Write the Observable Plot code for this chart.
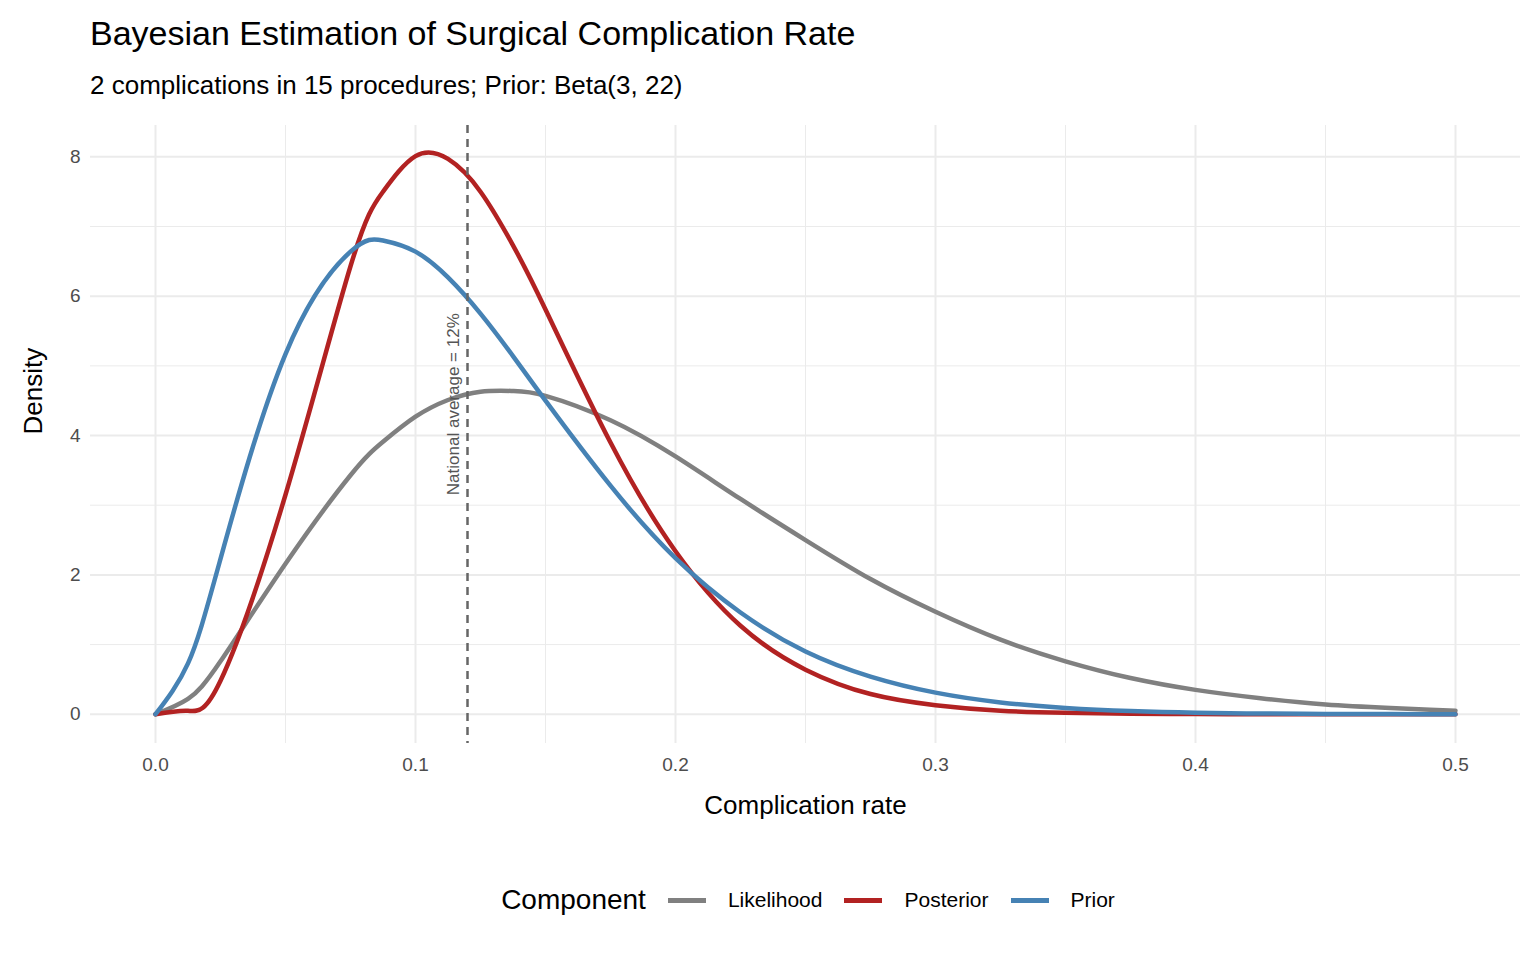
<!DOCTYPE html>
<html><head><meta charset="utf-8">
<script src="https://cdn.jsdelivr.net/npm/d3@7"></script>
<script src="https://cdn.jsdelivr.net/npm/@observablehq/plot@0.6"></script>
<style>
body{margin:0;background:#fff;font-family:"Liberation Sans",Arial,sans-serif;}
#t{position:absolute;left:90px;top:14px;font-size:34px;color:#000}
#s{position:absolute;left:90px;top:70px;font-size:26px;color:#000}
#c{position:absolute;left:0;top:110px}
#c [aria-label$="tick label"]{font-size:19px;fill:#4d4d4d}
#lg{position:absolute;top:884px;left:0;width:1536px;display:flex;justify-content:center;align-items:center;font-size:21px;padding-left:80px;box-sizing:border-box}
.sw{display:inline-block;width:38px;height:5px;margin:0 22px 0 22px}
</style></head><body>
<div id="t">Bayesian Estimation of Surgical Complication Rate</div>
<div id="s">2 complications in 15 procedures; Prior: Beta(3, 22)</div>
<div id="c"></div>
<div id="lg"><span style="font-size:28px;margin-right:0px">Component</span>
<span class="sw" style="background:#808080"></span>Likelihood
<span class="sw" style="background:#B22222"></span>Posterior
<span class="sw" style="background:#4682B4"></span>Prior</div>
<script>
const rates = [0,0.0125,0.025,0.05,0.075,0.0875,0.1,0.1125,0.125,0.1375,0.15,0.175,0.2,0.225,0.25,0.275,0.3,0.325,0.35,0.375,0.4,0.425,0.45,0.475,0.5];
const prior = [0,0.73,2.23,5.17,6.64,6.80,6.64,6.27,5.75,5.14,4.50,3.28,2.24,1.46,0.90,0.54,0.31,0.17,0.09,0.045,0.021,0.01,0.004,0.002,0.001];
const likelihood = [0,0.22,0.76,2.16,3.43,3.91,4.27,4.51,4.63,4.64,4.57,4.22,3.70,3.09,2.50,1.94,1.47,1.07,0.76,0.52,0.35,0.23,0.14,0.09,0.05];
const posterior = [0,0.05,0.48,3.15,6.43,7.50,8.01,7.97,7.50,6.73,5.81,3.90,2.34,1.27,0.64,0.29,0.13,0.05,0.02,0.006,0.002,0.001,0,0,0];
const nationalAvg = 0.12;
const data = [];
rates.forEach((r,i)=>{
  data.push({x:r,y:likelihood[i],c:"Likelihood"});
  data.push({x:r,y:posterior[i],c:"Posterior"});
  data.push({x:r,y:prior[i],c:"Prior"});
});
const chart = Plot.plot({
  width:1536,height:730,marginLeft:90,marginRight:16,marginTop:15,marginBottom:97,
  style:{fontFamily:"Liberation Sans, Arial, sans-serif",color:"#4d4d4d"},
  x:{domain:[-0.025,0.525],label:null},
  y:{domain:[-0.42,8.45],label:null},
  color:{domain:["Likelihood","Posterior","Prior"],range:["#808080","#B22222","#4682B4"]},
  marks:[
    Plot.gridX([0.05,0.15,0.25,0.35,0.45],{stroke:"#ebebeb",strokeOpacity:1,strokeWidth:1}),
    Plot.gridY([1,3,5,7],{stroke:"#ebebeb",strokeOpacity:1,strokeWidth:1}),
    Plot.gridX([0,0.1,0.2,0.3,0.4,0.5],{stroke:"#ebebeb",strokeOpacity:1,strokeWidth:2}),
    Plot.gridY([0,2,4,6,8],{stroke:"#ebebeb",strokeOpacity:1,strokeWidth:2}),
    Plot.axisX({ticks:[0,0.1,0.2,0.3,0.4,0.5],tickFormat:d3.format(".1f"),tickSize:0,label:null,tickPadding:14}),
    Plot.axisY({ticks:[0,2,4,6,8],tickSize:0,label:null,tickPadding:10}),
    Plot.line(data,{x:"x",y:"y",z:"c",stroke:"c",strokeWidth:4.5,curve:"natural"}),
    Plot.ruleX([nationalAvg],{stroke:"#666",strokeWidth:2.5,strokeDasharray:"8,6"}),
    Plot.text([nationalAvg],{x:d=>d,y:[4.45],text:()=>"National average = 12%",rotate:-90,dx:-14,fill:"#555",fontSize:17}),
    Plot.text(["Complication rate"],{x:[0.25],frameAnchor:"bottom",dy:52,text:d=>d,fill:"#000",fontSize:26,lineAnchor:"top"}),
    Plot.text(["Density"],{frameAnchor:"left",dx:-57,rotate:-90,text:d=>d,fill:"#000",fontSize:26})
  ]
});
document.getElementById("c").appendChild(chart);
</script></body></html>
